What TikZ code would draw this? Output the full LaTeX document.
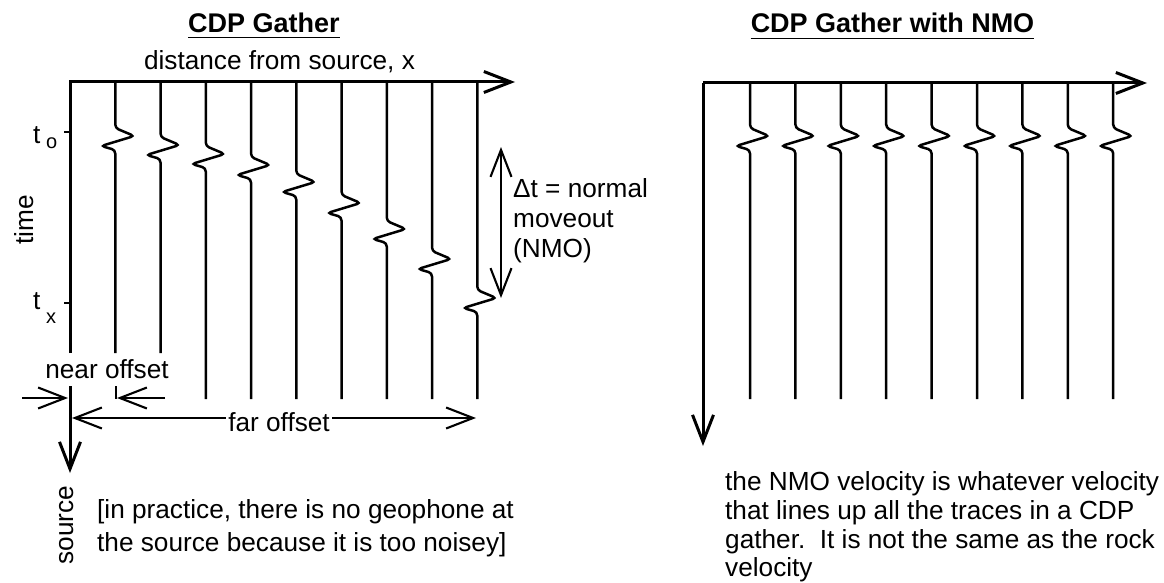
\documentclass[tikz,border=0pt]{standalone}
\usepackage{fontspec}
\setmainfont{Liberation Sans}
\usetikzlibrary{arrows.meta}
% one seismic trace: top of gather, wavelet start, bottom end
\newcommand\seistrace[3]{%
  \draw[trace] (#1,83) -- (#1,#2) -- ++(19,8) -- ++(-33,10) -- ++(14,4) -- (#1,#3);}
\begin{document}
\begin{tikzpicture}[x=1pt,y=-1pt,
  axis/.style={line width=3pt, line join=miter},
  trace/.style={line width=2.5pt, rounded corners=3.5pt},
  arrowline/.style={line width=2.1pt},
  tickline/.style={line width=1.8pt},
  lbl/.style={font=\fontsize{26.2}{30}\selectfont, inner sep=0pt},
  sublbl/.style={font=\fontsize{20}{22}\selectfont, inner sep=0pt},
  ttl/.style={font=\fontsize{27}{30}\selectfont\bfseries, inner sep=0pt},
  >={Straight Barb[length=27pt,width=21pt]}]
\useasboundingbox (0,0) rectangle (1164,583);

% ---------- left gather: moveout along a hyperbola ----------
\foreach \x/\t/\b in {115.25/128/353, 160.5/137/353, 205.75/146/399,
  251/157/399, 296.25/174/399, 341.5/195/399, 386.75/221/399,
  432/251/399, 477.25/290/399}
  {\seistrace{\x}{\t}{\b}}

\coordinate (Lbot) at (70,353);
\coordinate (Lorig) at (70,82);
\coordinate (Lend) at (515,82);
\draw[axis,->] (Lbot) -- (Lorig) -- (Lend);

\coordinate (srcTop) at (70,386);
\coordinate (srcTip) at (70,473);
\draw[axis,->] (srcTop) -- (srcTip);

% time ticks
\coordinate (t0a) at (64,132); \coordinate (t0b) at (70,132);
\coordinate (txa) at (64,303); \coordinate (txb) at (70,303);
\draw[tickline] (t0a) -- (t0b);
\draw[tickline] (txa) -- (txb);

% normal moveout span
\coordinate (dtTop) at (501,147);
\coordinate (dtBot) at (501,298);
\draw[arrowline,<->] (dtTop) -- (dtBot);

% near offset
\coordinate (nA) at (22,398); \coordinate (nB) at (68,398);
\coordinate (nC) at (165,398); \coordinate (nD) at (117,398);
\coordinate (nT1) at (116,386); \coordinate (nT2) at (116,399);
\draw[arrowline,->] (nA) -- (nB);
\draw[arrowline,->] (nC) -- (nD);
\draw[arrowline] (nT1) -- (nT2);

% far offset
\coordinate (fA) at (72,418); \coordinate (fB) at (476,418);
\draw[arrowline,<->] (fA) -- (fB);

% ---------- right gather: after NMO correction ----------
\foreach \x in {750,795.4,840.8,886.2,931.6,977,1022.4,1067.8,1113.2}
  {\seistrace{\x}{128}{399}}

\coordinate (Rtip) at (703,446);
\coordinate (Rorig) at (703,83);
\coordinate (Rend) at (1147,83);
\draw[axis,->] (Rorig) -- (Rend);
\draw[axis,->] (Rorig) -- (Rtip);

% ---------- labels ----------
\node[ttl, anchor=base] (titleA) at (264,33) {CDP Gather};
\draw[tickline] ([yshift=-4.5pt]titleA.base west) -- ([yshift=-4.5pt]titleA.base east);
\node[ttl, anchor=base] (titleB) at (892.5,33) {CDP Gather with NMO};
\draw[tickline] ([yshift=-5.5pt]titleB.base west) -- ([yshift=-5.5pt]titleB.base east);

\node[lbl, anchor=base] (xlabel) at (279.5,70) {distance from source, x};
\node[lbl, anchor=base west] (t0) at (33,143) {t};
\node[sublbl, anchor=base west] (t0sub) at (46,149) {o};
\node[lbl, anchor=base west] (tx) at (33,309) {t};
\node[sublbl, anchor=base west] (txsub) at (46,323) {x};
\node[lbl, rotate=90] (timelbl) at (24,220) {time};

\node[lbl, anchor=base west] (dt1) at (513,197) {Δt = normal};
\node[lbl, anchor=base west] (dt2) at (513,227) {moveout};
\node[lbl, anchor=base west] (dt3) at (513,257) {(NMO)};

\node[lbl, anchor=base] (nearlbl) at (107,378) {near offset};
\node[lbl, anchor=base, fill=white, inner xsep=2pt] (farlbl) at (279,431) {far offset};
\node[lbl, rotate=90] (srclbl) at (67,525) {source};

\node[lbl, anchor=base west] (noteA1) at (97,518) {[in practice, there is no geophone at};
\node[lbl, anchor=base west] (noteA2) at (97,551) {the source because it is too noisey]};

\node[lbl, anchor=base west] (noteB1) at (725,490) {the NMO velocity is whatever velocity};
\node[lbl, anchor=base west] (noteB2) at (725,519) {that lines up all the traces in a CDP};
\node[lbl, anchor=base west] (noteB3) at (725,548) {gather.\ \ It is not the same as the rock};
\node[lbl, anchor=base west] (noteB4) at (725,576) {velocity};
\end{tikzpicture}
\end{document}
